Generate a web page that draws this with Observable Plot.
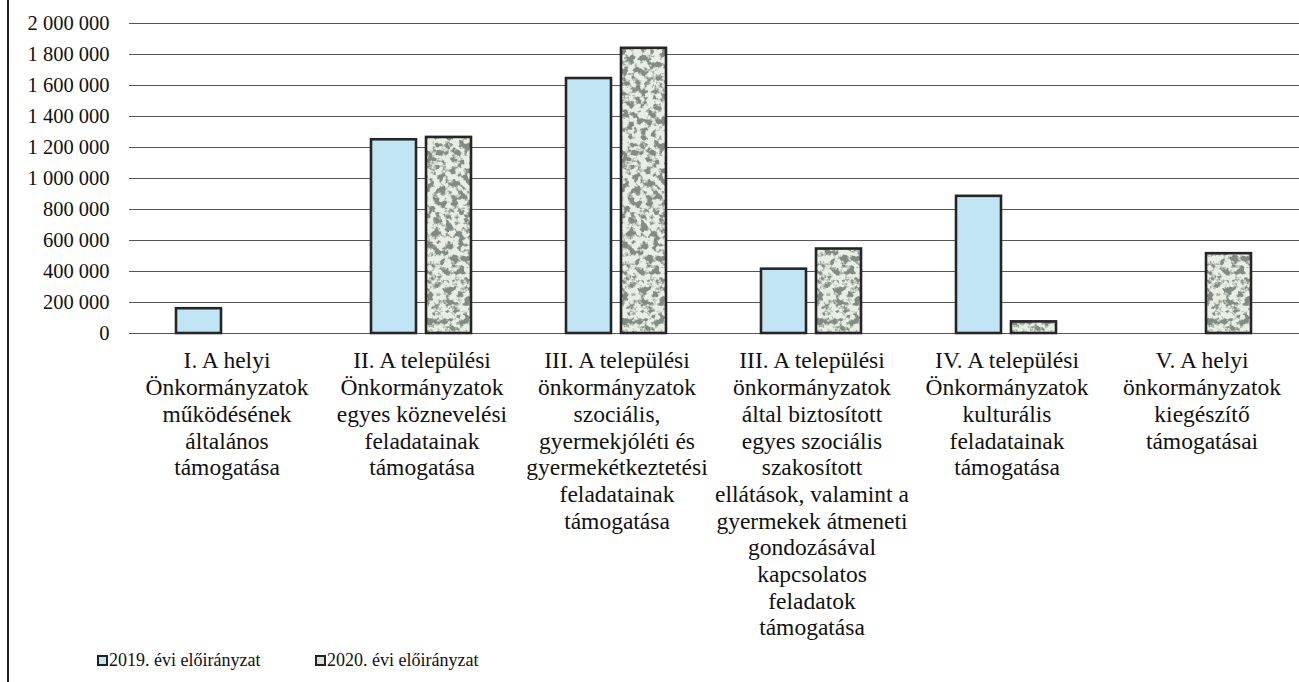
<!DOCTYPE html>
<html>
<head>
<meta charset="utf-8">
<script src="https://cdn.jsdelivr.net/npm/d3@7"></script>
<script src="https://cdn.jsdelivr.net/npm/@observablehq/plot@0.6"></script>
<style>
  html, body { margin: 0; padding: 0; background: #fff; }
  #wrap { position: relative; width: 1299px; height: 682px; overflow: hidden; font-family: "Liberation Serif", "Times New Roman", serif; }
  #frame { position: absolute; left: 7px; top: 0; width: 2px; height: 682px; background: #222; }
  #chart { position: absolute; left: 0; top: 0; }
  #legend { position: absolute; top: 649px; left: 97px; display: flex; font-size: 18px; color: #111; line-height: 22px; }
  .item { display: flex; align-items: center; }
  .sw { width: 7px; height: 7px; border: 2px solid #222; margin-right: 1px; box-sizing: content-box; }
</style>
</head>
<body>
<div id="wrap">
  <div id="frame"></div>
  <div id="chart"></div>
  <div id="legend"></div>
</div>
<script>
// ---- data ----
const categories = [
  "I. A helyi\nÖnkormányzatok\nműködésének\náltalános\ntámogatása",
  "II. A települési\nÖnkormányzatok\negyes köznevelési\nfeladatainak\ntámogatása",
  "III. A települési\nönkormányzatok\nszociális,\ngyermekjóléti és\ngyermekétkeztetési\nfeladatainak\ntámogatása",
  "III. A települési\nönkormányzatok\náltal biztosított\negyes szociális\nszakosított\nellátások, valamint a\ngyermekek átmeneti\ngondozásával\nkapcsolatos\nfeladatok\ntámogatása",
  "IV. A települési\nÖnkormányzatok\nkulturális\nfeladatainak\ntámogatása",
  "V. A helyi\nönkormányzatok\nkiegészítő\ntámogatásai"
];
const seriesNames = ["2019. évi előirányzat", "2020. évi előirányzat"];
const values2019 = [160000, 1250000, 1645000, 415000, 885000, null];
const values2020 = [null, 1265000, 1840000, 545000, 75000, 515000];
const yTicks = [0, 200000, 400000, 600000, 800000, 1000000, 1200000, 1400000, 1600000, 1800000, 2000000];

// ---- table ----
const rows = [];
categories.forEach((c, i) => {
  if (values2019[i] != null) rows.push({category: c, series: seriesNames[0], value: values2019[i]});
  if (values2020[i] != null) rows.push({category: c, series: seriesNames[1], value: values2020[i]});
});

const fmt = d => d3.format(",")(d).replace(/,/g, " ");
const FILL19 = "#c2e5f5";
const FONT = "'Liberation Serif', 'Times New Roman', serif";

const chart = Plot.plot({
  width: 1299,
  height: 645,
  marginLeft: 128,
  marginRight: 0,
  marginTop: 23,
  marginBottom: 312,
  style: {fontFamily: FONT, fontSize: "21px", color: "#111", background: "transparent"},
  fx: {domain: categories, padding: 0, label: null},
  x: {domain: seriesNames, paddingInner: 0.18, paddingOuter: 0.86, axis: null},
  y: {domain: [0, 2000000], label: null},
  marks: [
    Plot.ruleY(yTicks, {stroke: "#555", strokeWidth: 1.1}),
    Plot.barY(rows.filter(d => d.series === seriesNames[0]), {
      fx: "category", x: "series", y: "value",
      fill: FILL19, stroke: "#252525", strokeWidth: 2.6
    }),
    Plot.barY(rows.filter(d => d.series === seriesNames[1]), {
      fx: "category", x: "series", y: "value",
      fill: "url(#granite)", stroke: "#252525", strokeWidth: 2.6
    }),
    Plot.axisY({ticks: yTicks, tickFormat: fmt, tickSize: 0, tickPadding: 20, fontSize: 20.5, label: null}),
    Plot.axisFx({anchor: "bottom", tickSize: 0, tickPadding: 16, fontSize: 23.5, lineHeight: 1.136, label: null})
  ]
});

// granite texture for the 2020 bars (noise filter inside a pattern)
const svg = d3.select(chart);
const defs = svg.insert("defs", ":first-child");
const filt = defs.append("filter").attr("id", "graniteNoise")
  .attr("x", 0).attr("y", 0).attr("width", "100%").attr("height", "100%");
filt.append("feTurbulence").attr("type", "fractalNoise").attr("baseFrequency", 0.16)
  .attr("numOctaves", 3).attr("seed", 7);
filt.append("feColorMatrix").attr("type", "matrix")
  .attr("values", "0 0 0 0 0.22  0 0 0 0 0.26  0 0 0 0 0.23  -6 0 0 0 3.3");
const pat = defs.append("pattern").attr("id", "granite").attr("patternUnits", "userSpaceOnUse")
  .attr("width", 400).attr("height", 340);
pat.append("rect").attr("width", 400).attr("height", 340).attr("fill", "#e8eee4");
pat.append("rect").attr("width", 400).attr("height", 340).attr("fill", "#000").attr("filter", "url(#graniteNoise)");

document.getElementById("chart").appendChild(chart);

// legend
const legend = document.getElementById("legend");
seriesNames.forEach((name, i) => {
  const it = document.createElement("div");
  it.className = "item";
  if (i === 0) it.style.width = "218px";
  const sw = document.createElement("span");
  sw.className = "sw";
  sw.style.background = i === 0 ? FILL19 : "#d9ded6";
  const tx = document.createElement("span");
  tx.textContent = name;
  it.appendChild(sw); it.appendChild(tx);
  legend.appendChild(it);
});
</script>
</body>
</html>
